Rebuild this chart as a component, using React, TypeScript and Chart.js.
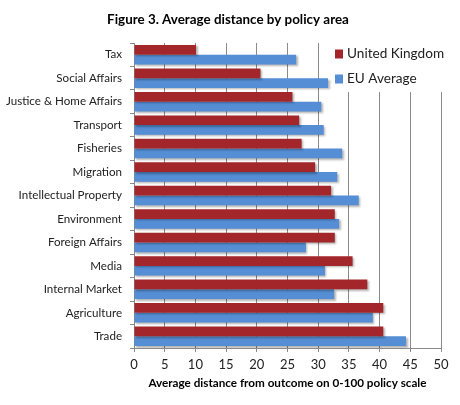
import React, { useEffect, useRef } from "react";
import { Chart, registerables } from "chart.js";

Chart.register(...registerables);

const categories = [
  "Tax",
  "Social Affairs",
  "Justice & Home Affairs",
  "Transport",
  "Fisheries",
  "Migration",
  "Intellectual Property",
  "Environment",
  "Foreign Affairs",
  "Media",
  "Internal Market",
  "Agriculture",
  "Trade",
];
const ukValues = [10.1, 20.6, 25.8, 26.9, 27.3, 29.5, 32.1, 32.7, 32.7, 35.6, 38.0, 40.6, 40.6];
const euValues = [26.4, 31.6, 30.5, 30.9, 33.9, 33.1, 36.6, 33.4, 28.0, 31.1, 32.6, 38.9, 44.3];
const seriesNames = ["United Kingdom", "EU Average"];
const titleText = "Figure 3. Average distance by policy area";
const xAxisTitle = "Average distance from outcome on 0-100 policy scale";
const xMin = 0;
const xMax = 50;
const xStep = 5;

const FONT = "Lato, 'Open Sans', sans-serif";
const UK_COLOR = "#A3262A";
const EU_COLOR = "#558ED5";
const GRID = "#8A8A8A";

const titlePlugin = {
  id: "customTitle",
  afterDraw(chart: any) {
    const ctx = chart.ctx;
    ctx.save();
    ctx.font = `bold 13.4px ${FONT}`;
    ctx.fillStyle = "#000";
    ctx.textAlign = "center";
    ctx.textBaseline = "middle";
    ctx.fillText(titleText, 228, 20);
    ctx.restore();
  },
};

const legendPlugin = {
  id: "customLegend",
  beforeDatasetsDraw(chart: any) {
    const ctx = chart.ctx;
    const area = chart.chartArea;
    ctx.save();
    ctx.fillStyle = "#fff";
    ctx.fillRect(333, area.top, area.right - 333 + 1, 92 - area.top);
    ctx.restore();
  },
  afterDraw(chart: any) {
    const ctx = chart.ctx;
    ctx.save();
    ctx.font = `13.6px ${FONT}`;
    ctx.textBaseline = "middle";
    ctx.textAlign = "left";
    const ys = [54, 79];
    chart.data.datasets.forEach((ds: any, i: number) => {
      ctx.fillStyle = ds.backgroundColor;
      ctx.fillRect(335, ys[i] - 4.5, 8, 9);
      ctx.fillStyle = "#222";
      ctx.fillText(ds.label, 347, ys[i]);
    });
    ctx.restore();
  },
};

const shadowPlugin = {
  id: "barShadow",
  beforeDatasetDraw(chart: any) {
    const ctx = chart.ctx;
    ctx.save();
    ctx.shadowColor = "rgba(0,0,0,0.3)";
    ctx.shadowOffsetX = 1.5;
    ctx.shadowOffsetY = 1.5;
    ctx.shadowBlur = 2;
  },
  afterDatasetDraw(chart: any) {
    chart.ctx.restore();
  },
};

export default function App() {
  const ref = useRef<HTMLCanvasElement | null>(null);

  useEffect(() => {
    document.body.style.margin = "0";
    const canvas = ref.current;
    if (!canvas) return;
    const chart = new Chart(canvas, {
      type: "bar",
      data: {
        labels: categories,
        datasets: [
          {
            label: seriesNames[0],
            data: ukValues,
            backgroundColor: UK_COLOR,
            barPercentage: 1,
            categoryPercentage: 0.83,
          },
          {
            label: seriesNames[1],
            data: euValues,
            backgroundColor: EU_COLOR,
            barPercentage: 1,
            categoryPercentage: 0.83,
          },
        ],
      },
      options: {
        indexAxis: "y",
        animation: false,
        responsive: false,
        devicePixelRatio: 1,
        layout: { padding: { top: 43, left: 0, right: 19, bottom: 0 } },
        plugins: {
          legend: { display: false },
          title: { display: false },
          tooltip: { enabled: false },
        },
        scales: {
          x: {
            min: xMin,
            max: xMax,
            ticks: {
              stepSize: xStep,
              color: "#222",
              font: { family: FONT, size: 13 },
              padding: 5,
            },
            grid: {
              color: GRID,
              tickLength: 4,
              tickColor: GRID,
            },
            border: { display: true, color: GRID },
            title: {
              display: true,
              text: xAxisTitle,
              color: "#000",
              font: { family: FONT, size: 11.7, weight: "bold" },
              padding: { top: 0, bottom: 15 },
            },
            afterFit: (scale: any) => {
              scale.height = 57;
            },
          },
          y: {
            ticks: {
              color: "#222",
              font: { family: FONT, size: 11.6 },
              padding: 8,
            },
            grid: {
              offset: true,
              drawOnChartArea: false,
              tickLength: 4,
              color: GRID,
              tickColor: GRID,
            },
            border: { display: true, color: GRID },
            afterFit: (scale: any) => {
              scale.width = 134;
            },
          },
        },
      },
      plugins: [titlePlugin, legendPlugin, shadowPlugin],
    });
    return () => chart.destroy();
  }, []);

  return (
    <div style={{ position: "absolute", left: 0, top: 0, width: 460, height: 405, background: "#fff" }}>
      <canvas ref={ref} width={460} height={405} style={{ width: 460, height: 405 }} />
    </div>
  );
}
